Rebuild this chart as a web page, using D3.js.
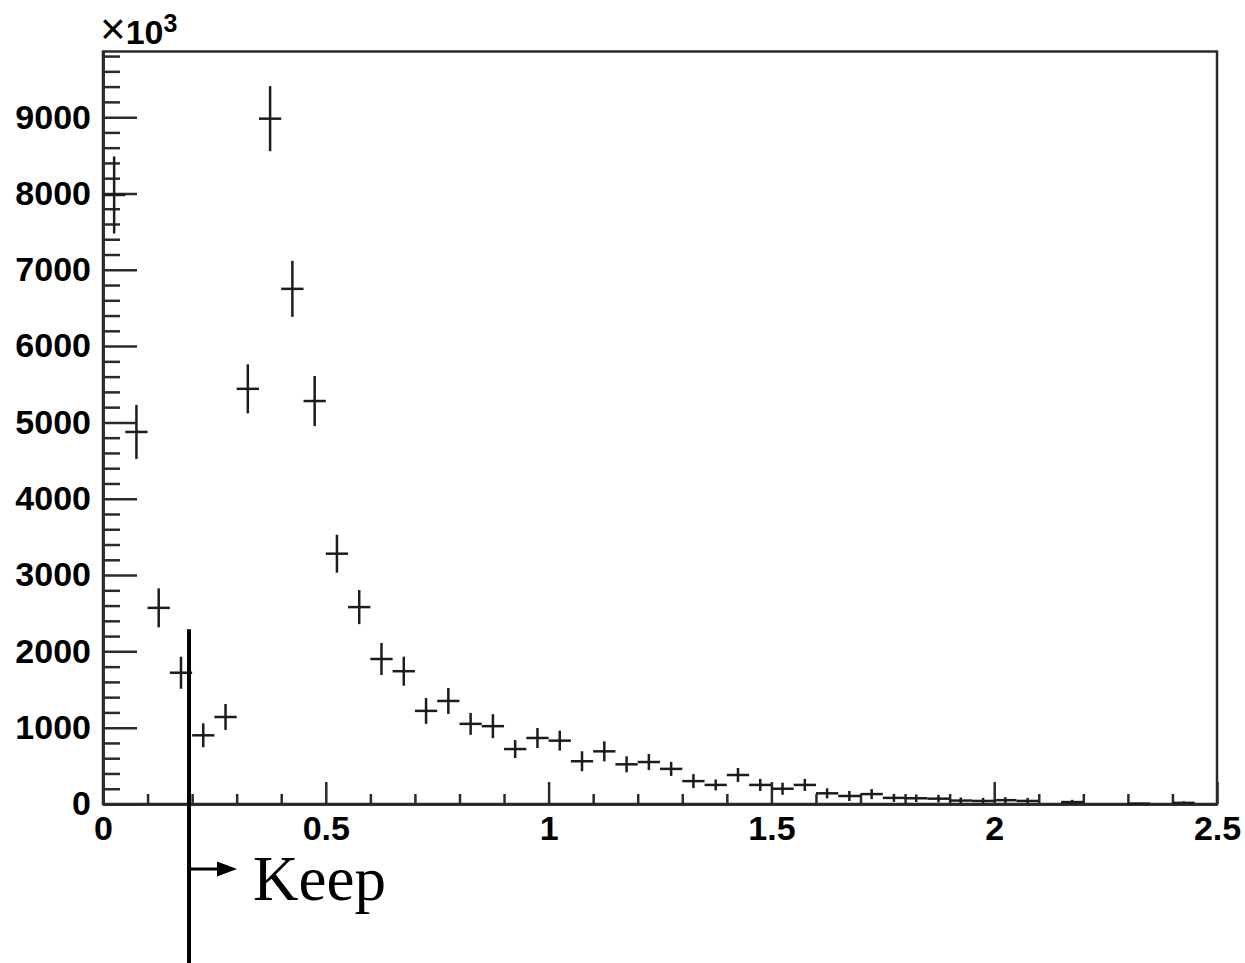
<html>
  <meta charset="utf-8">
  <head>
  <style>
    body {
      margin: 0;
      background: #fff;
    }
    svg {
      display: block;
    }
  </style>
  </head>
  <body>
    <div id="elm"></div>

    <script src="https://d3js.org/d3.v7.min.js"></script>
    <script>

    'use strict';

    // histogram bins (width 0.05), contents in units of 10^3
    var binCenters = [
      0.025, 0.075, 0.125, 0.175, 0.225, 0.275, 0.325, 0.375, 0.425, 0.475,
      0.525, 0.575, 0.625, 0.675, 0.725, 0.775, 0.825, 0.875, 0.925, 0.975,
      1.025, 1.075, 1.125, 1.175, 1.225, 1.275, 1.325, 1.375, 1.425, 1.475,
      1.525, 1.575, 1.625, 1.675, 1.725, 1.775, 1.825, 1.875, 1.925, 1.975,
      2.025, 2.075, 2.125, 2.175, 2.225, 2.275, 2.325, 2.375, 2.425, 2.475
    ];
    var binWidth = 0.05;
    var counts = [
      7980, 4875, 2570, 1720, 900, 1140, 5440, 8980, 6750, 5280,
      3280, 2580, 1900, 1740, 1220, 1350, 1050, 1020, 720, 865,
      830, 560, 690, 520, 550, 460, 300, 250, 380, 250,
      200, 250, 140, 105, 130, 80, 75, 70, 45, 40,
      50, 40, 0, 25, 0, 0, 5, 0, 15, 0
    ];
    var errors = [
      505, 354, 255, 210, 157, 170, 321, 426, 367, 328,
      249, 223, 210, 190, 170, 170, 144, 157, 118, 131,
      131, 131, 131, 105, 105, 92, 92, 72, 92, 79,
      79, 79, 66, 66, 66, 52, 50, 50, 40, 40,
      40, 40, 0, 30, 0, 0, 10, 0, 20, 0
    ];

    var xMajor = [0, 0.5, 1, 1.5, 2, 2.5];
    var xMajorLabels = ['0', '0.5', '1', '1.5', '2', '2.5'];
    var xMinor = [0.1, 0.2, 0.3, 0.4, 0.6, 0.7, 0.8, 0.9, 1.1, 1.2, 1.3, 1.4,
                  1.6, 1.7, 1.8, 1.9, 2.1, 2.2, 2.3, 2.4];
    var yMajor = [0, 1000, 2000, 3000, 4000, 5000, 6000, 7000, 8000, 9000];
    var yMinor = [200, 400, 600, 800, 1200, 1400, 1600, 1800, 2200, 2400, 2600, 2800,
                  3200, 3400, 3600, 3800, 4200, 4400, 4600, 4800, 5200, 5400, 5600, 5800,
                  6200, 6400, 6600, 6800, 7200, 7400, 7600, 7800, 8200, 8400, 8600, 8800,
                  9200, 9400, 9600, 9800];

    var keepCut = 0.193;
    var keepTop = 2290;

    var W = 1245, H = 963;
    var mLeft = 103, mRight = 1217, mTop = 51.5, mBottom = 804;

    var x = d3.scaleLinear().domain([0, 2.5]).range([mLeft, mRight]);
    var y = d3.scaleLinear().domain([0, 9860]).range([mBottom, mTop]);

    var svg = d3.select('#elm').append('svg')
      .attr('width', W)
      .attr('height', H);

    var ink = '#1c1c1c';

    // frame
    svg.append('rect')
      .attr('x', mLeft)
      .attr('y', mTop)
      .attr('width', mRight - mLeft)
      .attr('height', mBottom - mTop)
      .attr('fill', 'none')
      .attr('stroke', '#2a2a2a')
      .attr('stroke-width', 2.5);

    // x axis
    var gx = svg.append('g')
      .attr('transform', 'translate(0,' + mBottom + ')');
    gx.call(d3.axisBottom(x).tickValues(xMinor).tickSizeInner(-10).tickSizeOuter(0).tickFormat(''));
    var gx2 = svg.append('g')
      .attr('transform', 'translate(0,' + mBottom + ')');
    gx2.call(d3.axisBottom(x).tickValues(xMajor).tickSizeInner(-22).tickSizeOuter(0).tickPadding(12)
      .tickFormat((d, i) => xMajorLabels[i]));

    // y axis
    var gy = svg.append('g')
      .attr('transform', 'translate(' + mLeft + ',0)');
    gy.call(d3.axisLeft(y).tickValues(yMinor).tickSizeInner(-17).tickSizeOuter(0).tickFormat(''));
    var gy2 = svg.append('g')
      .attr('transform', 'translate(' + mLeft + ',0)');
    gy2.call(d3.axisLeft(y).tickValues(yMajor).tickSizeInner(-34).tickSizeOuter(0).tickPadding(12)
      .tickFormat(d3.format('d')));

    svg.selectAll('.domain')
      .attr('stroke', '#2a2a2a')
      .attr('stroke-width', 2.5);
    svg.selectAll('.tick line')
      .attr('stroke', '#2a2a2a')
      .attr('stroke-width', 2.5);
    svg.selectAll('.tick text')
      .attr('fill', '#000')
      .style('font-family', '"Liberation Sans", Arial, sans-serif')
      .style('font-weight', 'bold')
      .style('font-size', '34px');

    // x10^3 multiplier
    var mult = svg.append('text')
      .attr('x', mLeft - 3)
      .attr('y', 44)
      .style('font-family', '"Liberation Sans", Arial, sans-serif')
      .style('font-size', '34px')
      .style('font-weight', 'bold')
      .attr('fill', '#000');
    mult.append('tspan')
      .style('font-size', '44px')
      .style('font-weight', 'normal')
      .text('\u00d7');
    mult.append('tspan').text('10');
    mult.append('tspan')
      .attr('dy', -12)
      .style('font-size', '25px')
      .text('3');

    // data points with error bars
    var pts = binCenters.map((c, i) => ({c: c, v: counts[i], e: errors[i]}))
      .filter(d => d.v > 0);

    var g = svg.append('g')
      .attr('stroke', ink)
      .attr('stroke-width', 2.5)
      .attr('fill', 'none');

    g.selectAll('line.h')
      .data(pts)
      .enter().append('line')
      .attr('class', 'h')
      .attr('x1', d => x(d.c - binWidth / 2))
      .attr('x2', d => x(d.c + binWidth / 2))
      .attr('y1', d => y(d.v))
      .attr('y2', d => y(d.v));

    g.selectAll('line.v')
      .data(pts.filter(d => d.e > 0))
      .enter().append('line')
      .attr('class', 'v')
      .attr('x1', d => x(d.c))
      .attr('x2', d => x(d.c))
      .attr('y1', d => y(Math.max(0, d.v - d.e)))
      .attr('y2', d => y(d.v + d.e));

    // "Keep" cut annotation
    var kx = x(keepCut);
    svg.append('line')
      .attr('x1', kx)
      .attr('x2', kx)
      .attr('y1', y(keepTop))
      .attr('y2', H)
      .attr('stroke', '#000')
      .attr('stroke-width', 4);

    svg.append('line')
      .attr('x1', kx)
      .attr('x2', kx + 30)
      .attr('y1', 869)
      .attr('y2', 869)
      .attr('stroke', '#000')
      .attr('stroke-width', 3);

    svg.append('path')
      .attr('d', 'M' + (kx + 28) + ',861.5 L' + (kx + 48) + ',869 L' + (kx + 28) + ',876.5 Z')
      .attr('fill', '#000');

    svg.append('text')
      .attr('x', 253)
      .attr('y', 900)
      .style('font-family', '"Liberation Serif", "Times New Roman", serif')
      .style('font-size', '63px')
      .attr('fill', '#000')
      .text('Keep');

    </script>
  </body>
</html>
